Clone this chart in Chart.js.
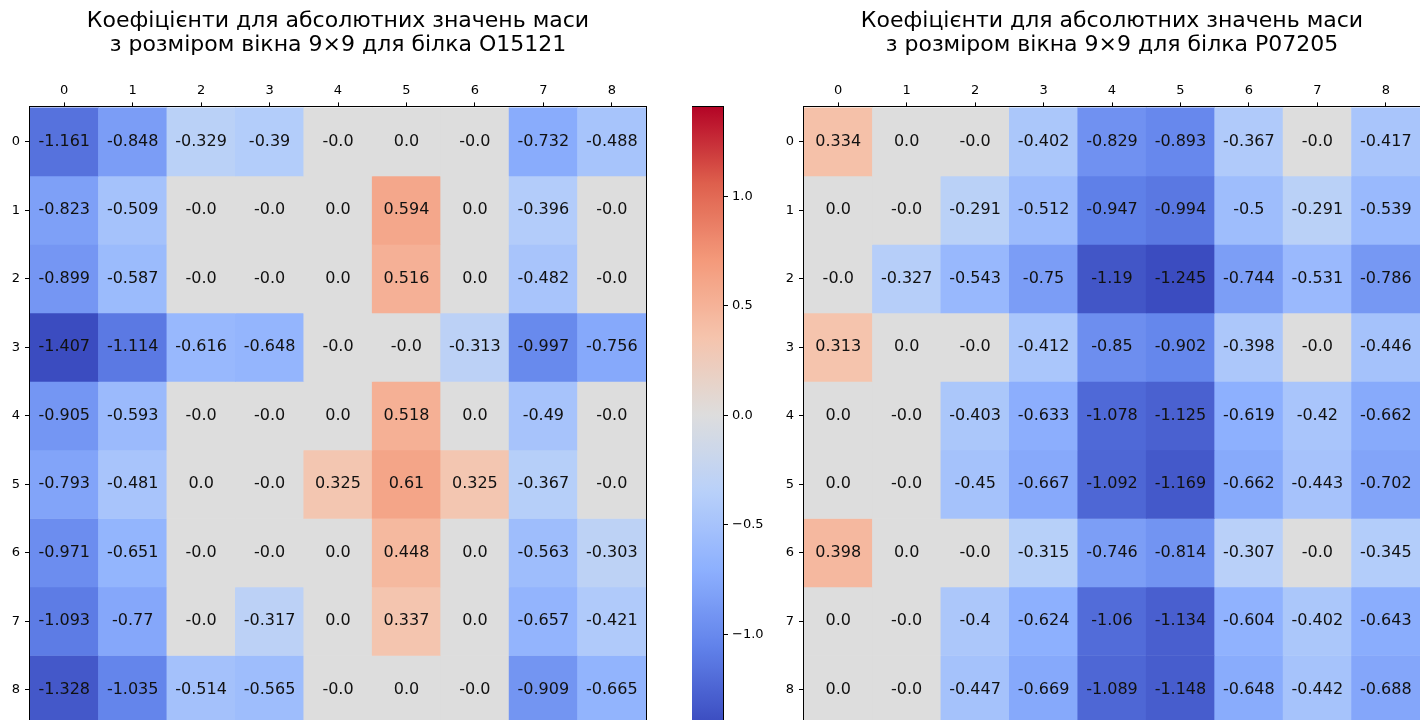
<!DOCTYPE html>
<html>
<head>
<meta charset="utf-8">
<script src="https://cdn.jsdelivr.net/npm/chart.js@4.4.1/dist/chart.umd.min.js"></script>
<style>
  html, body { margin: 0; padding: 0; background: #fff; overflow: hidden; width: 1420px; height: 720px; }
  canvas { position: absolute; top: 0; }
</style>
</head>
<body>
<canvas id="left" width="650" height="724" style="left:0px"></canvas>
<canvas id="cbar" width="80" height="724" style="left:692px"></canvas>
<canvas id="right" width="650" height="724" style="left:774px"></canvas>
<script>
const columnLabels = ['0', '1', '2', '3', '4', '5', '6', '7', '8'];
const rowLabels = [0, 1, 2, 3, 4, 5, 6, 7, 8];
const titleO15121 = ['Коефіцієнти для абсолютних значень маси', 'з розміром вікна 9×9 для білка O15121'];
const titleP07205 = ['Коефіцієнти для абсолютних значень маси', 'з розміром вікна 9×9 для білка P07205'];

const weightsO15121 = [
  [-1.161, -0.848, -0.329, -0.39, -0.0, 0.0, -0.0, -0.732, -0.488],
  [-0.823, -0.509, -0.0, -0.0, 0.0, 0.594, 0.0, -0.396, -0.0],
  [-0.899, -0.587, -0.0, -0.0, 0.0, 0.516, 0.0, -0.482, -0.0],
  [-1.407, -1.114, -0.616, -0.648, -0.0, -0.0, -0.313, -0.997, -0.756],
  [-0.905, -0.593, -0.0, -0.0, 0.0, 0.518, 0.0, -0.49, -0.0],
  [-0.793, -0.481, 0.0, -0.0, 0.325, 0.61, 0.325, -0.367, -0.0],
  [-0.971, -0.651, -0.0, -0.0, 0.0, 0.448, 0.0, -0.563, -0.303],
  [-1.093, -0.77, -0.0, -0.317, 0.0, 0.337, 0.0, -0.657, -0.421],
  [-1.328, -1.035, -0.514, -0.565, -0.0, 0.0, -0.0, -0.909, -0.665],
];

const weightsP07205 = [
  [0.334, 0.0, -0.0, -0.402, -0.829, -0.893, -0.367, -0.0, -0.417],
  [0.0, -0.0, -0.291, -0.512, -0.947, -0.994, -0.5, -0.291, -0.539],
  [-0.0, -0.327, -0.543, -0.75, -1.19, -1.245, -0.744, -0.531, -0.786],
  [0.313, 0.0, -0.0, -0.412, -0.85, -0.902, -0.398, -0.0, -0.446],
  [0.0, -0.0, -0.403, -0.633, -1.078, -1.125, -0.619, -0.42, -0.662],
  [0.0, -0.0, -0.45, -0.667, -1.092, -1.169, -0.662, -0.443, -0.702],
  [0.398, 0.0, -0.0, -0.315, -0.746, -0.814, -0.307, -0.0, -0.345],
  [0.0, -0.0, -0.4, -0.624, -1.06, -1.134, -0.604, -0.402, -0.643],
  [0.0, -0.0, -0.447, -0.669, -1.089, -1.148, -0.648, -0.442, -0.688],
];

// each map is coloured on its own symmetric range (largest |value|)
const limitO15121 = 1.407;
const limitP07205 = 1.245;
const colorbarTicks = [-1.0, -0.5, 0.0, 0.5, 1.0];

const FONT = '"DejaVu Sans", sans-serif';

// coolwarm, sampled every 1/8
const coolwarmStops = [
  [59, 76, 192], [97, 130, 234], [141, 176, 254], [184, 208, 249],
  [221, 221, 221], [245, 196, 173], [244, 154, 123], [222, 96, 77], [180, 4, 38],
];

function coolwarm(t) {
  t = Math.max(0, Math.min(1, t));
  const pos = t * (coolwarmStops.length - 1);
  const i = Math.min(Math.floor(pos), coolwarmStops.length - 2);
  const f = pos - i;
  const a = coolwarmStops[i], b = coolwarmStops[i + 1];
  const c = a.map((v, k) => Math.round(v + (b[k] - v) * f));
  return `rgb(${c[0]},${c[1]},${c[2]})`;
}

function fmt(v) {
  if (Object.is(v, -0)) return '-0.0';
  if (Number.isInteger(v)) return v.toFixed(1);
  return String(v);
}

const cellText = {
  id: 'cellText',
  afterDatasetsDraw(chart) {
    const ctx = chart.ctx;
    ctx.save();
    ctx.font = '16px ' + FONT;
    ctx.fillStyle = '#111';
    ctx.textAlign = 'center';
    ctx.textBaseline = 'middle';
    chart.data.datasets.forEach((ds, i) => {
      chart.getDatasetMeta(i).data.forEach((bar, j) => {
        ctx.fillText(fmt(ds.values[j]), bar.x, (bar.y + bar.base) / 2);
      });
    });
    ctx.restore();
  }
};

const frame = {
  id: 'frame',
  afterDraw(chart) {
    const a = chart.chartArea;
    const ctx = chart.ctx;
    ctx.save();
    ctx.strokeStyle = '#000';
    ctx.lineWidth = 1;
    ctx.strokeRect(Math.round(a.left) - 0.5, Math.round(a.top) - 0.5, Math.round(a.right - a.left) + 1, Math.round(a.bottom - a.top) + 1);
    ctx.restore();
  }
};

const tickFont = { family: FONT, size: 13 };

// keep the vertical scale from reserving room for half a tick label
function noVerticalPadding(s) {
  s.paddingTop = 0;
  s.paddingBottom = 0;
}

function makeHeatmap(id, title, weights, limit) {
  const colorFor = v => coolwarm((v + limit) / (2 * limit));
  const datasets = rowLabels.map(r => ({
    label: 'row ' + r,
    data: weights[r].map(() => [r - 0.5, r + 0.5]),
    values: weights[r],
    backgroundColor: weights[r].map(colorFor),
    borderWidth: 0,
    grouped: false,
    barPercentage: 1,
    categoryPercentage: 1,
  }));

  new Chart(document.getElementById(id), {
    type: 'bar',
    data: { labels: columnLabels, datasets },
    options: {
      responsive: false,
      animation: false,
      layout: { padding: { left: 0, right: 4, top: 0, bottom: 0 } },
      plugins: {
        legend: { display: false },
        tooltip: { enabled: false },
        title: {
          display: true,
          text: title,
          fullSize: false,
          color: '#000',
          font: { family: FONT, size: 22, weight: 'normal', lineHeight: 1.1 },
          padding: { top: 9, bottom: 0 },
        },
      },
      scales: {
        x: {
          position: 'top',
          afterFit: s => { s.height = 50; },
          ticks: { font: tickFont, color: '#000', padding: 4, maxRotation: 0 },
          grid: { drawOnChartArea: false, offset: false, tickLength: 5, tickColor: '#000', tickWidth: 1 },
          border: { display: false },
        },
        y: {
          type: 'linear',
          min: -0.5,
          max: 8.5,
          reverse: true,
          afterBuildTicks: s => { s.ticks = rowLabels.map(v => ({ value: v })); },
          afterFit: s => { s.width = 30; noVerticalPadding(s); },
          ticks: { font: tickFont, color: '#000', padding: 5, callback: v => String(v) },
          grid: { drawOnChartArea: false, tickLength: 5, tickColor: '#000', tickWidth: 1 },
          border: { display: false },
        },
      },
    },
    plugins: [cellText, frame],
  });
}

makeHeatmap('left', titleO15121, weightsO15121, limitO15121);
makeHeatmap('right', titleP07205, weightsP07205, limitP07205);

function gradientFill(context) {
  const area = context.chart.chartArea;
  if (!area) return '#ddd';
  const g = context.chart.ctx.createLinearGradient(0, area.bottom, 0, area.top);
  for (let i = 0; i <= 64; i++) {
    g.addColorStop(i / 64, coolwarm(i / 64));
  }
  return g;
}

new Chart(document.getElementById('cbar'), {
  type: 'bar',
  data: {
    labels: ['colorbar'],
    datasets: [{
      data: [[-limitO15121, limitO15121]],
      backgroundColor: gradientFill,
      borderWidth: 0,
      barPercentage: 1,
      categoryPercentage: 1,
    }],
  },
  options: {
    responsive: false,
    animation: false,
    layout: { padding: { top: 107, bottom: 0.5, left: 0, right: 0 } },
    plugins: { legend: { display: false }, tooltip: { enabled: false } },
    scales: {
      x: { display: false },
      y: {
        position: 'right',
        min: -limitO15121,
        max: limitO15121,
        afterBuildTicks: s => { s.ticks = colorbarTicks.map(v => ({ value: v })); },
        afterFit: s => { s.width = 49; noVerticalPadding(s); },
        ticks: {
          font: tickFont,
          color: '#000',
          padding: 4,
          callback: v => (v < 0 ? '\u2212' + Math.abs(v).toFixed(1) : v.toFixed(1)),
        },
        grid: { drawOnChartArea: false, tickLength: 5, tickColor: '#000', tickWidth: 1 },
        border: { display: false },
      },
    },
  },
  plugins: [frame],
});
</script>
</body>
</html>
